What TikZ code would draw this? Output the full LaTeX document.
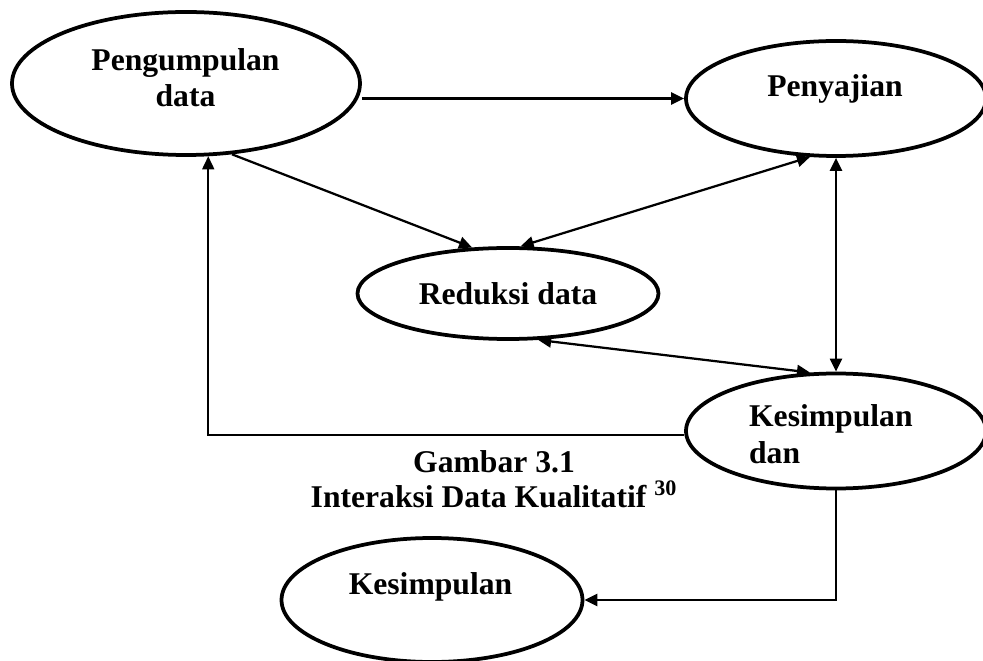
\documentclass[tikz,border=0pt]{standalone}
\usepackage{fontspec}
\setmainfont{Liberation Serif}
\usetikzlibrary{arrows.meta,shapes.geometric}

\begin{document}
\begin{tikzpicture}[x=.2mm,y=-.2mm,line width=.45mm,
  blob/.style={draw,ellipse,inner sep=0pt,line width=.75mm},
  txt/.style={inner sep=0pt,font=\fontsize{18}{21}\selectfont\bfseries},
  tip/.style={-{Triangle[length=2.6mm,width=2.4mm]}},
  tips/.style={{Triangle[length=2.6mm,width=2.4mm]}-{Triangle[length=2.6mm,width=2.4mm]}}]
\path[use as bounding box] (0,0) rectangle (983,661);
\node[blob,minimum width=69.6mm,minimum height=28.6mm] (kumpul) at (186,83.5) {};
\node[blob,minimum width=60mm,minimum height=23mm] (sajian) at (836,98.5) {};
\node[blob,minimum width=60.2mm,minimum height=18.2mm,txt] (reduksi) at (508,293.5) {Reduksi data};
\node[blob,minimum width=60mm,minimum height=23mm] (kesdan) at (836,431) {};
\node[blob,minimum width=60.2mm,minimum height=24.8mm] (kesimpulan) at (432,600) {};
\node[txt,align=center,anchor=base] (kumpul-t) at (185.5,107) {Pengumpulan\\data};
\node[txt,anchor=base] (sajian-t) at (835,97) {Penyajian};
\node[txt,align=left,anchor=base west] (kesdan-t) at (748,463) {Kesimpulan\\dan};
\node[txt,anchor=base] (kesimpulan-t) at (430.5,594) {Kesimpulan};
\node[txt,align=center,anchor=base,font=\fontsize{18}{19.5}\selectfont\bfseries] (judul) at (494,507) {Gambar 3.1\\Interaksi Data Kualitatif \textsuperscript{30}};
\coordinate (belok) at (208,435);
\draw[tip] (kumpul.east |- sajian.west) -- (sajian.west);
\draw[tip] (kumpul.-57) -- (reduksi.128);
\draw[tips] (sajian.246) -- (reduksi.75);
\draw[tips] (reduksi.-57) -- (kesdan.114);
\draw[tips] (sajian.south) -- (kesdan.north);
\draw[tip,line width=.32mm] (kesdan.west |- belok) -| (kumpul.-73);
\draw[tip] (kesdan.south) |- (kesimpulan.east);
\end{tikzpicture}
\end{document}
